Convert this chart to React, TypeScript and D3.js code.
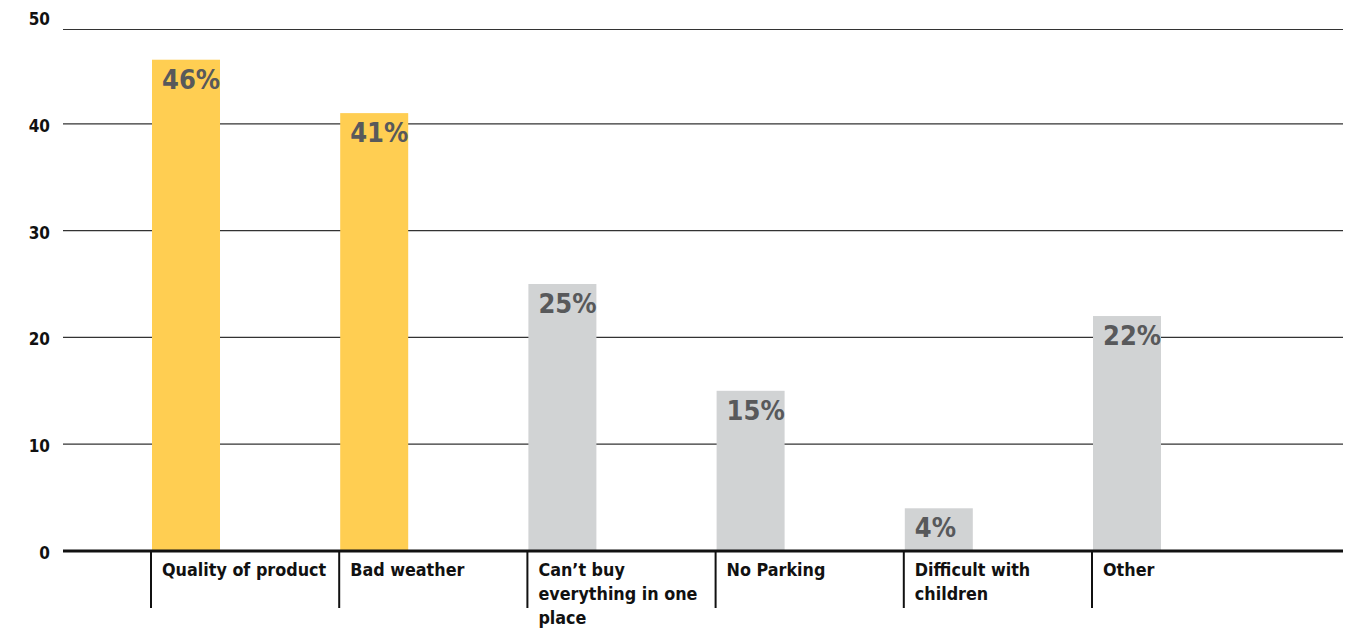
import { useEffect, useRef } from "react"
import * as d3 from "d3"

const categories = [
  "Quality of product",
  "Bad weather",
  "Can’t buy everything in one place",
  "No Parking",
  "Difficult with children",
  "Other",
]
const values = [46, 41, 25, 15, 4, 22]
const highlighted = ["Quality of product", "Bad weather"]
const yTicks = [0, 10, 20, 30, 40, 50]

const FONT = "'DejaVu Sans Condensed', 'DejaVu Sans', sans-serif"

export default function App() {
  const svgRef = useRef<SVGSVGElement>(null)

  useEffect(() => {
    if (!svgRef.current) return
    document.body.style.margin = "0"

    const svg = d3.select(svgRef.current)
    svg.selectAll("*").remove()

    const left = 63
    const right = 1343
    const baseY = 551
    const barWidth = 68
    const step = 188.2

    const y = d3.scaleLinear().domain([0, 50]).range([baseY, 17])
    const x = d3
      .scaleBand<string>()
      .domain(categories)
      .range([152, 152 + step * categories.length])
      .paddingInner(0)
      .paddingOuter(0)

    // gridlines (the top rule sits a little lower than the 50 tick in the original)
    const topRuleDrop = 12.5
    svg
      .append("g")
      .selectAll("line")
      .data(yTicks.filter((t) => t > 0))
      .enter()
      .append("line")
      .attr("x1", left)
      .attr("x2", right)
      .attr("y1", (d) => y(d) + (d === 50 ? topRuleDrop : 0))
      .attr("y2", (d) => y(d) + (d === 50 ? topRuleDrop : 0))
      .attr("stroke", "#333")
      .attr("stroke-width", 1.2)

    // y labels
    svg
      .append("g")
      .selectAll("text")
      .data(yTicks)
      .enter()
      .append("text")
      .attr("x", 50)
      .attr("y", (d) => y(d) + 8)
      .attr("text-anchor", "end")
      .attr("font-family", FONT)
      .attr("font-weight", "bold")
      .attr("font-size", 17)
      .attr("fill", "#111")
      .text((d) => d)

    // bars
    svg
      .append("g")
      .selectAll("rect")
      .data(categories)
      .enter()
      .append("rect")
      .attr("x", (d) => x(d) || 0)
      .attr("y", (d, i) => y(values[i]))
      .attr("width", barWidth)
      .attr("height", (d, i) => baseY - y(values[i]))
      .attr("fill", (d) => (highlighted.includes(d) ? "#FFCE52" : "#D1D3D4"))

    // value labels
    svg
      .append("g")
      .selectAll("text")
      .data(categories)
      .enter()
      .append("text")
      .attr("x", (d) => (x(d) || 0) + 10)
      .attr("y", (d, i) => y(values[i]) + 29)
      .attr("font-family", FONT)
      .attr("font-weight", "bold")
      .attr("font-size", 27)
      .attr("fill", "#58595B")
      .text((d, i) => `${values[i]}%`)

    // baseline
    svg
      .append("line")
      .attr("x1", left)
      .attr("x2", right)
      .attr("y1", baseY)
      .attr("y2", baseY)
      .attr("stroke", "#111")
      .attr("stroke-width", 3)

    // category dividers
    svg
      .append("g")
      .selectAll("line")
      .data(categories)
      .enter()
      .append("line")
      .attr("x1", (d) => (x(d) || 0) - 1)
      .attr("x2", (d) => (x(d) || 0) - 1)
      .attr("y1", baseY)
      .attr("y2", 608)
      .attr("stroke", "#111")
      .attr("stroke-width", 2)

    // category labels, wrapped
    const maxWidth = 172
    const labels = svg
      .append("g")
      .selectAll("text")
      .data(categories)
      .enter()
      .append("text")
      .attr("font-family", FONT)
      .attr("font-weight", "bold")
      .attr("font-size", 17.8)
      .attr("fill", "#111")

    labels.each(function (d) {
      const text = d3.select(this)
      const words = d.split(" ")
      const x0 = (x(d) || 0) + 10
      let line: string[] = []
      let lineNo = 0
      let tspan = text.append("tspan").attr("x", x0).attr("y", 576)
      words.forEach((w) => {
        line.push(w)
        tspan.text(line.join(" "))
        if ((tspan.node() as SVGTSpanElement).getComputedTextLength() > maxWidth && line.length > 1) {
          line.pop()
          tspan.text(line.join(" "))
          line = [w]
          lineNo++
          tspan = text
            .append("tspan")
            .attr("x", x0)
            .attr("y", 576 + lineNo * 24)
            .text(w)
        }
      })
    })
  }, [])

  return (
    <svg
      ref={svgRef}
      width={1364}
      height={628}
      style={{ position: "fixed", left: 0, top: 0, background: "#fff" }}
    />
  )
}
